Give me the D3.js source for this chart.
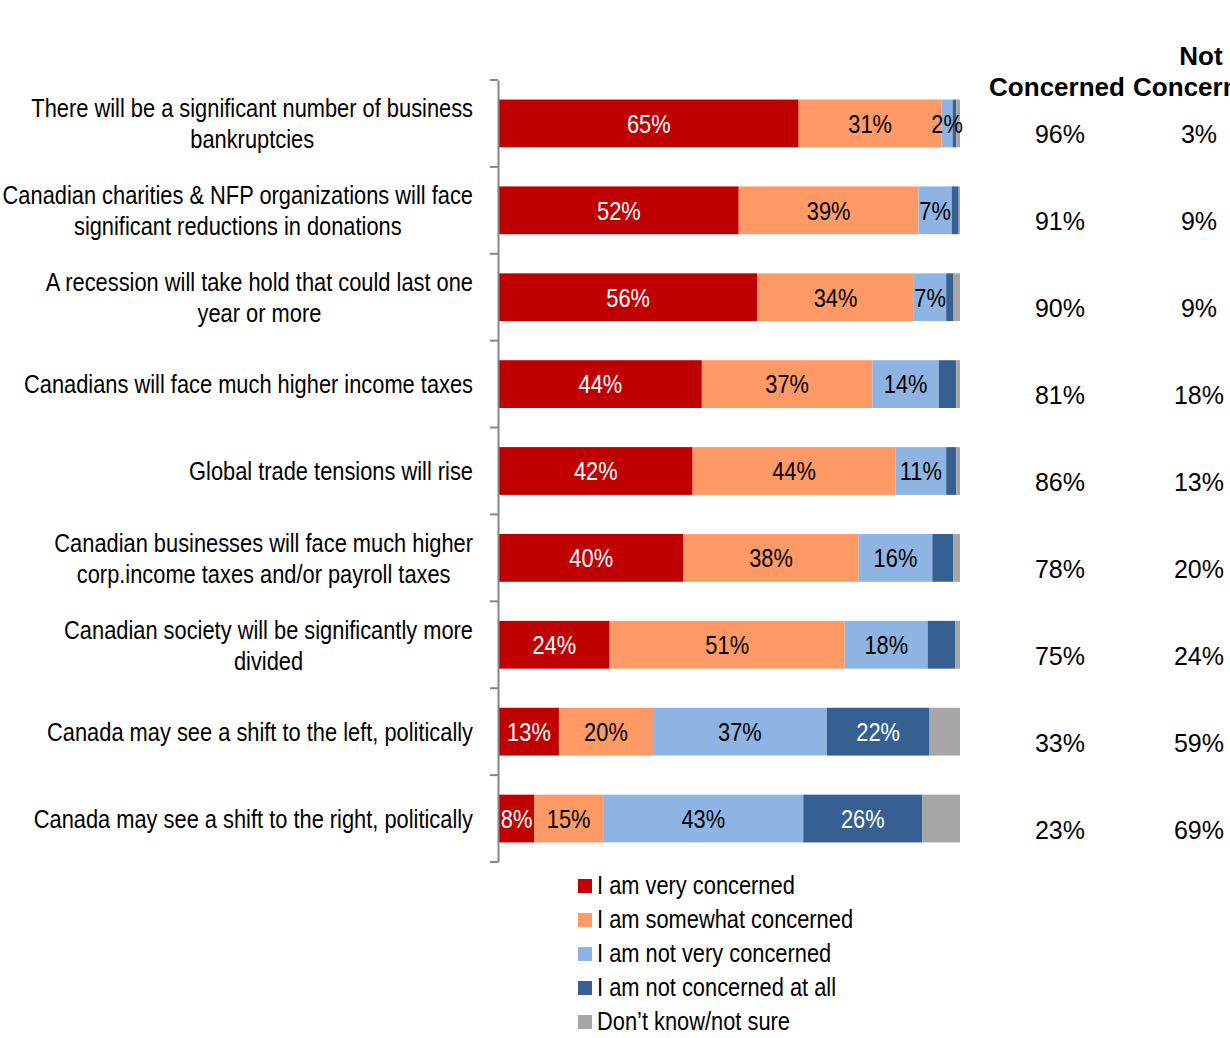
<!DOCTYPE html>
<html><head><meta charset="utf-8">
<script src="https://cdn.jsdelivr.net/npm/d3@7"></script>
<style>body{margin:0;background:#fff}svg{display:block}</style>
</head><body>
<svg id="c" width="1230" height="1038"></svg>
<script>
const categories = [
  "There will be a significant number of business|bankruptcies",
  "Canadian charities & NFP organizations will face|significant reductions in donations",
  "A recession will take hold that could last one|year or more",
  "Canadians will face much higher income taxes",
  "Global trade tensions will rise",
  "Canadian businesses will face much higher|corp.income taxes and/or payroll taxes",
  "Canadian society will be significantly more|divided",
  "Canada may see a shift to the left, politically",
  "Canada may see a shift to the right, politically"
];
const seriesNames = ["I am very concerned","I am somewhat concerned","I am not very concerned","I am not concerned at all","Don\u2019t know/not sure"];
const veryConcerned     = [65, 52, 56, 44, 42, 40, 24, 13, 7.6];
const somewhatConcerned = [31, 39, 34, 37, 44, 38, 51, 20.4, 15];
const notVeryConcerned  = [2.4, 7.2, 7, 14.4, 11, 16, 18, 37.7, 43.4];
const notAtAll          = [0.8, 1.5, 1.6, 3.8, 2.2, 4.5, 6, 22.3, 25.8];
const dontKnow          = [0.8, 0.3, 1.4, 0.8, 0.8, 1.5, 1, 6.6, 8.2];
const labelsVery     = ["65%","52%","56%","44%","42%","40%","24%","13%","8%"];
const labelsSomewhat = ["31%","39%","34%","37%","44%","38%","51%","20%","15%"];
const labelsNotVery  = ["2%","7%","7%","14%","11%","16%","18%","37%","43%"];
const labelsNotAtAll = ["","","","","","","","22%","26%"];
const totalConcerned    = ["96%","91%","90%","81%","86%","78%","75%","33%","23%"];
const totalNotConcerned = ["3%","9%","9%","18%","13%","20%","24%","59%","69%"];
const colors = ["#C00000","#FF9966","#8DB4E2","#366092","#A6A6A6"];
const labelColors = ["#fff","#000","#000","#fff","#000"];

const svg = d3.select("#c");
const reg = "'Liberation Sans',Arial,sans-serif";
const SX = 0.84; // horizontal condensing to mimic Arial Narrow
const FS = 26;

function narrowText(parent, px, py, str, anchor, fill){
  return parent.append("text")
    .attr("transform",`translate(${px},${py}) scale(${SX},1)`)
    .attr("x",0).attr("y",0).attr("dy","0.36em")
    .attr("text-anchor",anchor).attr("font-family",reg).attr("font-size",FS)
    .attr("fill",fill).text(str);
}

const x = d3.scaleLinear().domain([0,100]).range([499,960]);
const y = d3.scaleBand().domain(d3.range(categories.length)).range([80,862]).paddingInner(0.45).paddingOuter(0.225);
const yb = d3.scaleBand().domain(d3.range(categories.length)).range([80,862]);

const seriesVals = [veryConcerned, somewhatConcerned, notVeryConcerned, notAtAll, dontKnow];
const seriesLabels = [labelsVery, labelsSomewhat, labelsNotVery, labelsNotAtAll, null];
const rows = categories.map((c,i)=>{
  let acc=0; return seriesVals.map((s,k)=>{const x0=acc; acc+=s[i]; return {i,k,x0,x1:acc,label:seriesLabels[k]?seriesLabels[k][i]:""};});
});
const segs = rows.flat();

svg.append("g").selectAll("rect").data(segs).join("rect")
  .attr("x",d=>x(d.x0)).attr("width",d=>x(d.x1)-x(d.x0))
  .attr("y",d=>y(d.i)).attr("height",y.bandwidth())
  .attr("fill",d=>colors[d.k]);

const lblG = svg.append("g");
segs.filter(d=>d.label).forEach(d=>{
  narrowText(lblG,(x(d.x0)+x(d.x1))/2, y(d.i)+y.bandwidth()/2, d.label, "middle", labelColors[d.k]);
});

// axis
const ax = svg.append("g").attr("transform","translate(498,0)")
  .call(d3.axisLeft(yb).tickValues([]).tickSizeOuter(0));
ax.select(".domain").attr("stroke","#868686").attr("stroke-width",2);
const boundaries = d3.range(categories.length+1).map(i=>80+i*yb.step());
svg.append("g").selectAll("line").data(boundaries).join("line")
  .attr("x1",490).attr("x2",498).attr("y1",d=>d).attr("y2",d=>d)
  .attr("stroke","#868686").attr("stroke-width",2);

// category labels
const rightEdge = 473;
categories.forEach((c,i)=>{
  const lines = c.split("|");
  const g = svg.append("g");
  const cy = yb(i)+yb.bandwidth()/2;
  const ts = lines.map((l,j)=>narrowText(g, 0, cy + (j-(lines.length-1)/2)*31, l, "middle", "#000"));
  const w = d3.max(ts,t=>t.node().getComputedTextLength())*SX;
  ts.forEach((t,j)=>t.attr("transform",`translate(${rightEdge - w/2},${cy + (j-(lines.length-1)/2)*31}) scale(${SX},1)`));
});

// right columns
const cols = [1059, 1198];
svg.append("text").attr("x",cols[1]+3).attr("y",65).attr("text-anchor","middle")
  .attr("font-family",reg).attr("font-weight","bold").attr("font-size",26).text("Not");
svg.append("text").attr("x",cols[0]-2).attr("y",96).attr("text-anchor","middle")
  .attr("font-family",reg).attr("font-weight","bold").attr("font-size",26).text("Concerned");
svg.append("text").attr("x",cols[1]+3).attr("y",96).attr("text-anchor","middle")
  .attr("font-family",reg).attr("font-weight","bold").attr("font-size",26).text("Concerned");
[totalConcerned,totalNotConcerned].forEach((arr,k)=>{
  svg.append("g").selectAll("text").data(arr).join("text")
    .attr("x",cols[k]+1).attr("y",(d,i)=>yb(i)+yb.bandwidth()/2+11).attr("dy","0.36em")
    .attr("text-anchor","middle").attr("font-family",reg).attr("font-size",25).attr("fill","#000")
    .text(d=>d);
});

// legend
const lg = svg.append("g").selectAll("g").data(seriesNames).join("g")
  .attr("transform",(d,i)=>`translate(578,${886+i*34})`);
lg.append("rect").attr("x",0).attr("y",-7).attr("width",14).attr("height",14).attr("fill",(d,i)=>colors[i]);
lg.each(function(d){ narrowText(d3.select(this), 19, -1, d, "start", "#000"); });
</script>
</body></html>
